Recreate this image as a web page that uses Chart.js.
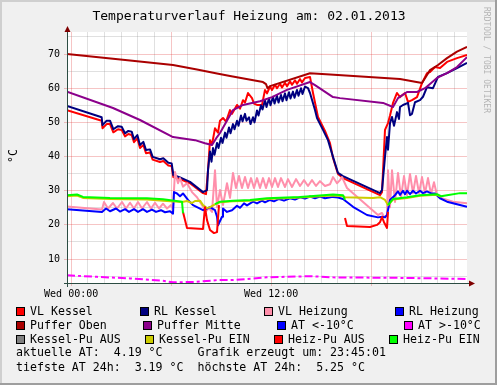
<!DOCTYPE html>
<html>
<head>
<meta charset="utf-8">
<title>Temperaturverlauf Heizung</title>
<script src="https://cdn.jsdelivr.net/npm/chart.js@4.4.1/dist/chart.umd.min.js"></script>
<style>
  html, body { margin: 0; padding: 0; background: #f0f0f0; }
  canvas { display: block; }
</style>
</head>
<body>
<canvas id="heizChart" width="497" height="385"></canvas>
<script>
// time in hours of 02.01.2013 (graph runs 23:45 the day before -> 23:45)
const hourTicks = [0, 1, 2, 3, 4, 5, 6, 7, 8, 9, 10, 11, 12, 13, 14, 15, 16, 17, 18, 19, 20, 21, 22, 23];
const hourLabels = { 0: "Wed 00:00", 12: "Wed 12:00" };
const tempTicks = [5, 10, 15, 20, 25, 30, 35, 40, 45, 50, 55, 60, 65, 70, 75];

const seriesNames = ["VL Kessel", "RL Kessel", "VL Heizung", "RL Heizung",
    "Puffer Oben", "Puffer Mitte", "AT <-10°C", "AT >-10°C",
    "Kessel-Pu AUS", "Kessel-Pu EIN", "Heiz-Pu AUS", "Heiz-Pu EIN"];
const seriesColors = ["#ff0000", "#000080", "#ff8fab", "#0000ff",
    "#aa0000", "#8b008b", "#0000ff", "#ff00ff",
    "#808080", "#cccc00", "#ff0000", "#00ff00"];

// [hour, °C]
const vlKessel = [[-0.25,53.6],[1.83,50.5],[1.88,48.3],[2.13,49.5],[2.33,49.5],[2.53,47.1],[2.81,48.0],[3.03,47.8],[3.23,45.9],[3.43,46.6],[3.63,46.3],[3.77,44.2],[3.97,45.3],[4.13,42.5],[4.33,43.4],[4.49,41.0],[4.73,41.2],[4.89,39.1],[5.33,38.4],[5.53,38.7],[5.83,37.4],[6.03,37.2],[6.13,34.0],[6.53,33.4],[7.13,32.2],[7.91,29.3],[8.09,29.0],[8.21,36.0],[8.33,44.8],[8.45,43.5],[8.63,48.3],[8.81,47.0],[8.93,50.5],[9.11,51.3],[9.29,50.2],[9.53,53.6],[9.65,52.5],[9.95,55.1],[10.13,54.0],[10.31,56.5],[10.43,55.8],[10.61,58.6],[10.85,57.1],[10.97,55.5],[11.15,55.1],[11.45,55.1],[11.63,59.5],[11.75,58.5],[11.93,60.5],[12.05,59.5],[12.23,61.0],[12.35,60.0],[12.53,61.3],[12.65,60.2],[12.83,61.6],[12.95,60.6],[13.13,62.0],[13.25,61.0],[13.43,62.3],[13.55,61.3],[13.73,62.7],[13.85,61.7],[14.03,63.0],[14.33,63.3],[14.51,58.6],[14.81,51.6],[15.23,47.5],[15.53,43.9],[15.71,39.6],[16.01,34.9],[16.31,33.7],[18.53,28.7],[18.65,29.6],[18.83,47.8],[19.01,49.8],[19.13,52.0],[19.31,55.7],[19.55,58.6],[19.73,57.4],[20.03,58.6],[20.21,56.0],[20.45,56.5],[20.75,57.4],[21.05,61.5],[21.35,64.4],[21.53,64.7],[21.83,66.2],[22.13,65.9],[22.55,67.7],[23.15,68.8],[23.75,69.7]];
const rlKessel = [[-0.25,54.8],[1.83,51.5],[1.88,49.2],[2.13,50.5],[2.33,50.5],[2.53,48.0],[2.81,48.9],[3.03,48.7],[3.23,46.8],[3.43,47.5],[3.63,47.3],[3.77,45.1],[3.97,46.3],[4.13,43.4],[4.33,44.3],[4.49,41.9],[4.73,42.1],[4.89,39.9],[5.33,39.2],[5.53,39.5],[5.83,38.2],[6.03,38.0],[6.13,34.6],[6.53,33.9],[7.13,32.6],[7.91,29.6],[8.15,30.2],[8.21,36.0],[8.33,41.5],[8.42,38.5],[8.51,42.5],[8.60,40.5],[8.75,44.0],[8.84,42.5],[8.99,45.5],[9.08,44.0],[9.23,47.0],[9.32,45.5],[9.47,48.5],[9.56,46.8],[9.71,49.5],[9.80,48.0],[9.95,50.5],[10.04,49.0],[10.19,52.0],[10.28,50.3],[10.43,52.5],[10.52,50.5],[10.67,51.5],[10.76,49.5],[10.91,51.5],[11.00,50.0],[11.15,53.5],[11.24,52.0],[11.39,55.0],[11.48,53.8],[11.63,56.5],[11.72,54.5],[11.87,57.0],[11.96,55.0],[12.11,57.5],[12.20,55.5],[12.35,57.8],[12.44,55.8],[12.59,58.0],[12.68,56.2],[12.83,58.5],[12.92,56.5],[13.07,58.8],[13.16,57.0],[13.31,59.0],[13.40,57.2],[13.55,59.5],[13.64,57.8],[13.79,60.0],[13.88,58.3],[14.03,60.5],[14.21,60.0],[14.33,58.6],[14.63,53.6],[14.75,51.3],[15.11,47.8],[15.41,44.8],[15.71,39.9],[16.01,35.2],[16.31,34.3],[18.53,29.3],[18.65,30.2],[18.83,39.9],[18.95,45.7],[19.01,42.0],[19.13,49.8],[19.25,51.6],[19.37,49.0],[19.55,53.0],[19.67,51.0],[19.73,54.5],[19.91,55.1],[20.21,55.7],[20.33,52.1],[20.45,52.5],[20.63,55.9],[20.93,56.5],[21.11,57.5],[21.35,60.3],[21.71,60.0],[22.01,63.3],[22.55,64.4],[23.15,65.9],[23.75,67.4]];
const vlHeizung = [[-0.25,25.4],[1.85,24.5],[1.97,26.7],[2.21,24.8],[2.51,26.4],[2.75,24.8],[3.05,26.7],[3.29,24.8],[3.53,26.5],[3.77,24.8],[4.01,26.7],[4.25,24.8],[4.55,26.7],[4.79,24.8],[5.03,26.5],[5.27,24.8],[5.51,26.2],[5.75,24.8],[5.99,25.8],[6.11,24.9],[6.23,35.5],[6.41,32.2],[6.53,33.7],[6.71,31.2],[6.95,32.2],[7.25,29.6],[7.55,28.1],[7.91,25.3],[8.09,24.0],[8.27,24.9],[8.45,23.8],[8.63,36.0],[8.75,25.2],[8.93,30.2],[9.11,25.8],[9.35,32.2],[9.53,27.9],[9.71,35.2],[9.89,30.8],[10.07,34.3],[10.25,30.8],[10.43,34.0],[10.61,30.8],[10.79,33.7],[10.97,30.8],[11.15,33.7],[11.33,30.8],[11.51,33.7],[11.69,30.8],[11.87,33.7],[12.05,31.1],[12.23,33.7],[12.41,31.1],[12.59,33.7],[12.83,31.1],[13.01,33.4],[13.25,31.1],[13.49,33.4],[13.73,31.4],[13.97,33.1],[14.21,31.4],[14.45,33.1],[14.69,31.4],[14.93,32.8],[15.23,31.4],[15.53,31.9],[15.71,34.0],[15.95,32.2],[16.13,33.1],[16.25,34.0],[16.55,30.8],[18.41,22.9],[18.65,23.5],[18.77,22.3],[18.95,22.9],[19.01,36.0],[19.13,25.2],[19.25,36.0],[19.43,26.7],[19.61,35.2],[19.79,28.1],[19.97,34.3],[20.15,28.7],[20.33,34.9],[20.51,29.3],[20.69,34.3],[20.87,29.3],[21.05,34.0],[21.23,29.3],[21.41,33.7],[21.59,29.0],[21.77,32.5],[21.95,28.7],[22.19,27.9],[22.91,26.8],[23.75,26.3]];
const rlHeizung = [[-0.25,24.6],[1.85,23.8],[2.09,24.8],[2.33,24.0],[2.69,24.8],[2.93,23.9],[3.23,24.6],[3.47,23.8],[3.77,24.6],[4.01,23.8],[4.31,24.6],[4.55,23.8],[4.85,24.5],[5.09,23.8],[5.39,24.3],[5.63,23.7],[5.93,24.0],[6.11,23.3],[6.17,29.6],[6.35,29.2],[6.53,28.4],[6.71,29.2],[7.01,27.3],[7.31,25.8],[7.91,24.3],[8.15,24.8],[8.33,25.2],[8.63,24.3],[8.75,22.4],[8.81,19.9],[9.05,22.4],[9.11,24.8],[9.35,23.8],[9.65,24.3],[9.95,25.6],[10.13,25.0],[10.37,26.3],[10.55,25.7],[10.91,26.8],[11.15,26.3],[11.45,27.1],[11.63,26.6],[11.93,27.3],[12.17,26.9],[12.47,27.6],[12.77,27.1],[13.13,27.8],[13.43,27.4],[13.73,28.1],[14.03,27.7],[14.33,28.3],[14.63,27.8],[14.93,28.3],[15.23,27.8],[15.71,28.2],[16.01,28.0],[16.31,27.6],[16.91,25.3],[17.75,22.9],[18.41,22.2],[18.65,22.4],[18.83,22.2],[18.95,22.9],[19.13,27.3],[19.43,28.7],[19.61,29.8],[19.73,28.8],[19.91,30.0],[20.03,29.0],[20.15,30.0],[20.33,29.0],[20.51,30.0],[20.69,29.2],[20.93,30.0],[21.11,29.3],[21.35,29.8],[21.59,29.2],[21.83,29.2],[22.13,27.8],[22.55,26.8],[23.33,25.8],[23.75,25.3]];
const pufferOben = [[-0.25,70.0],[3.53,68.1],[6.11,66.8],[7.55,65.5],[8.75,64.3],[9.53,63.6],[11.51,61.8],[11.69,61.2],[11.78,60.0],[11.93,60.6],[14.33,64.4],[15.53,64.0],[19.73,62.7],[21.05,61.5],[21.53,65.3],[22.01,66.8],[22.55,68.8],[23.15,70.7],[23.75,72.1]];
const pufferMitte = [[-0.25,59.0],[2.51,54.2],[4.13,50.7],[6.11,45.7],[7.43,44.8],[8.03,43.9],[8.45,43.4],[8.75,45.7],[8.93,46.9],[9.71,53.6],[10.31,55.1],[11.33,56.2],[12.05,57.4],[12.95,59.5],[14.33,61.8],[14.63,60.9],[15.71,57.4],[16.13,57.1],[18.71,55.7],[19.31,54.5],[19.61,57.1],[20.15,58.9],[20.75,58.9],[21.23,60.0],[21.95,63.0],[22.55,64.4],[23.15,66.2],[23.75,69.1]];
const atLow = [];
const atHigh = [[-0.25,5.25],[1.55,4.8],[3.53,4.35],[5.51,3.65],[6.11,3.19],[7.55,3.35],[8.75,3.85],[9.71,3.85],[11.75,4.65],[14.33,5.0],[15.71,4.65],[19.73,4.5],[23.75,4.19]];
const kesselPuAus = [];
const kesselPuEin = [[-0.25,28.4],[0.35,28.6],[0.71,27.9],[2.33,27.6],[4.55,27.4],[5.51,27.1],[6.65,26.7],[6.95,27.0],[7.25,26.4],[7.43,27.0],[7.73,27.1],[7.91,25.8],[8.15,24.9],[8.33,25.2],[8.63,26.0],[8.93,26.6],[9.71,26.9],[10.73,27.1],[11.75,27.6],[13.73,28.0],[15.71,28.6],[16.31,28.4],[16.43,28.1],[18.11,27.9],[18.53,28.1],[18.83,27.3],[19.01,25.8],[19.31,27.4],[20.15,27.9],[20.93,28.5],[21.95,28.8],[22.19,28.2],[22.3,null]];
const heizPuAus = [[6.71,23.8],[6.95,19.1],[7.91,18.8],[8.03,25.2],[8.15,21.4],[8.33,18.5],[8.57,17.6],[8.75,17.9],[8.87,25.8],[12,null],[16.43,22.0],[16.55,19.7],[17.93,19.4],[18.35,20.0],[18.53,20.8],[18.65,22.3],[18.77,20.8],[18.95,19.1],[19.01,23.8]];
const heizPuEin = [[-0.25,28.7],[0.35,28.9],[0.71,28.2],[2.33,27.9],[4.55,27.8],[5.51,27.5],[6.65,26.8],[6.71,23.4],[7.5,null],[8.63,26.1],[8.93,26.8],[9.71,27.1],[10.73,27.3],[11.75,27.8],[13.73,28.2],[15.71,28.9],[16.31,28.7],[16.43,27.3],[17.5,null],[19.01,25.8],[19.31,27.6],[20.15,28.1],[20.93,28.7],[21.95,29.0],[22.19,28.4],[22.55,28.7],[23.33,29.3],[23.75,29.3]];

const allSeries = [vlKessel, rlKessel, vlHeizung, rlHeizung, pufferOben, pufferMitte,
    atLow, atHigh, kesselPuAus, kesselPuEin, heizPuAus, heizPuEin];

const titleText = "Temperaturverlauf Heizung am: 02.01.2013";
const footerLines = [
    "aktuelle AT:  4.19 °C     Grafik erzeugt um: 23:45:01",
    "tiefste AT 24h:  3.19 °C  höchste AT 24h:  5.25 °C"
];

const GRID = "rgba(143,143,143,0.28)";
const MGRID = "rgba(222,48,47,0.28)";
const MONO = '"DejaVu Sans Mono", monospace';

// legend layout: rows of [series index, square x]
const legendRows = [
    [[0, 16], [1, 140], [2, 264], [3, 395]],
    [[4, 16], [5, 143], [6, 277], [7, 404]],
    [[8, 16], [9, 145], [10, 274], [11, 389]]
];

const rrdLook = {
    id: "rrdLook",
    beforeDraw(chart) {
        const { ctx, chartArea: a, width, height } = chart;
        ctx.save();
        ctx.fillStyle = "#f0f0f0";
        ctx.fillRect(0, 0, width, height);
        ctx.fillStyle = "#cfcfcf";
        ctx.fillRect(0, 0, width, 2);
        ctx.fillRect(0, 0, 2, height);
        ctx.fillStyle = "#9e9e9e";
        ctx.fillRect(0, height - 2, width, 2);
        ctx.fillRect(width - 2, 0, 2, height);
        ctx.fillStyle = "#ffffff";
        ctx.fillRect(a.left, a.top, a.right - a.left, a.bottom - a.top);
        ctx.restore();
    },
    afterDraw(chart) {
        const { ctx, chartArea: a } = chart;
        ctx.save();

        // axes
        ctx.strokeStyle = "#2c4d43";
        ctx.lineWidth = 1;
        ctx.beginPath();
        ctx.moveTo(a.left + 0.5, a.bottom + 4);
        ctx.lineTo(a.left + 0.5, a.top - 3);
        ctx.moveTo(a.left - 3, a.bottom + 0.5);
        ctx.lineTo(a.right + 3, a.bottom + 0.5);
        ctx.stroke();

        // arrows
        ctx.fillStyle = "#7f0000";
        ctx.beginPath();
        ctx.moveTo(a.left + 0.5, a.top - 6);
        ctx.lineTo(a.left - 2.5, a.top);
        ctx.lineTo(a.left + 3.5, a.top);
        ctx.closePath();
        ctx.fill();
        ctx.beginPath();
        ctx.moveTo(a.right + 8, a.bottom + 0.5);
        ctx.lineTo(a.right + 2, a.bottom - 2.5);
        ctx.lineTo(a.right + 2, a.bottom + 3.5);
        ctx.closePath();
        ctx.fill();

        ctx.fillStyle = "#000";
        ctx.textBaseline = "middle";

        // title
        ctx.font = "13px " + MONO;
        ctx.textAlign = "center";
        ctx.fillText(titleText, 249, 17);

        // vertical unit label
        ctx.font = "11.5px " + MONO;
        ctx.save();
        ctx.translate(14, 156);
        ctx.rotate(-Math.PI / 2);
        ctx.fillText("°C", 0, 0);
        ctx.restore();

        // credit
        ctx.save();
        ctx.font = "8px " + MONO;
        ctx.fillStyle = "#b4b4b4";
        ctx.textAlign = "left";
        ctx.translate(486, 7);
        ctx.rotate(Math.PI / 2);
        ctx.fillText("RRDTOOL / TOBI OETIKER", 0, 0);
        ctx.restore();

        // legend
        ctx.font = "11.6px " + MONO;
        ctx.textAlign = "left";
        legendRows.forEach((row, r) => {
            const cy = 311.5 + r * 14;
            row.forEach(([i, sx]) => {
                ctx.fillStyle = seriesColors[i];
                ctx.fillRect(sx, cy - 4.5, 9, 9);
                ctx.strokeStyle = "#000";
                ctx.strokeRect(sx + 0.5, cy - 4, 8, 8);
                ctx.fillStyle = "#000";
                ctx.fillText(seriesNames[i], sx + 14, cy + 0.5);
            });
        });
        footerLines.forEach((line, k) => {
            ctx.fillText(line, 16, 353 + k * 14.5);
        });

        ctx.restore();
    }
};

Chart.defaults.font.family = MONO;
Chart.defaults.color = "#000";

new Chart(document.getElementById("heizChart"), {
    type: "line",
    data: {
        datasets: allSeries.map((points, i) => ({
            label: seriesNames[i],
            data: points.map(([x, y]) => ({ x, y })),
            borderColor: seriesColors[i],
            backgroundColor: seriesColors[i],
            borderWidth: 2,
            borderJoinStyle: "round",
            borderDash: i === 7 ? [8, 3, 3, 3] : [],
            pointRadius: 0,
            tension: 0,
            fill: false,
            spanGaps: false,
            order: seriesNames.length - i
        }))
    },
    options: {
        responsive: false,
        animation: false,
        devicePixelRatio: 1,
        layout: {
            padding: { left: 0, right: 30, top: 32, bottom: 82 }
        },
        plugins: {
            legend: { display: false },
            title: { display: false },
            tooltip: { enabled: false }
        },
        scales: {
            x: {
                type: "linear",
                min: -0.25,
                max: 23.75,
                afterBuildTicks: scale => {
                    scale.ticks = hourTicks.map(v => ({ value: v }));
                },
                afterFit: scale => { scale.height = 20; },
                border: { display: false },
                grid: {
                    color: c => (c.tick && c.tick.value % 6 === 0) ? MGRID : GRID,
                    tickColor: c => (c.tick && c.tick.value % 6 === 0) ? MGRID : "rgba(0,0,0,0)",
                    tickLength: 3
                },
                ticks: {
                    autoSkip: false,
                    maxRotation: 0,
                    padding: 2,
                    font: { size: 10 },
                    callback: v => hourLabels[v] || ""
                }
            },
            y: {
                min: 3.0,
                max: 76.45,
                afterBuildTicks: scale => {
                    scale.ticks = tempTicks.map(v => ({ value: v }));
                },
                afterFit: scale => { scale.width = 67; },
                border: { display: false },
                grid: {
                    color: c => (c.tick && c.tick.value % 10 === 0) ? MGRID : GRID,
                    tickColor: c => (c.tick && c.tick.value % 10 === 0) ? MGRID : "rgba(0,0,0,0)",
                    tickLength: 3
                },
                ticks: {
                    padding: 4,
                    font: { size: 10 },
                    callback: v => (v % 10 === 0) ? String(v) : ""
                }
            }
        }
    },
    plugins: [rrdLook]
});
</script>
</body>
</html>
